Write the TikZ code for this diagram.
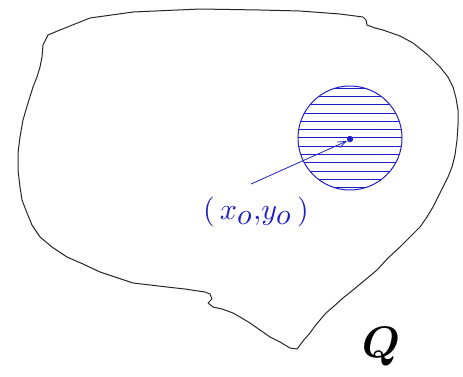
\documentclass[tikz,border=0pt]{standalone}
\usepackage{amsmath,bm,graphicx}
\usetikzlibrary{arrows.meta}
\definecolor{dblue}{RGB}{30,30,200}
\tikzset{
  outline/.style={draw=black!85, line width=1pt, line join=round},
  hatch/.style={draw=dblue, line width=0.7pt},
  ptr/.style={draw=dblue, line width=0.8pt, -{Straight Barb[length=8pt,width=6pt]}}
}
\begin{document}
\begin{tikzpicture}[x=1pt,y=-1pt]
\useasboundingbox (0,0) rectangle (463,376);
% region Q
\draw[outline] (43,45) -- (48,35) -- (60,30) -- (75,24) -- (90,18) -- (133,12) -- (200,9) -- (260,10) -- (300,11) -- (340,14) -- (363,17) -- (366,20) -- (367,25) -- (375,28) -- (383,30) -- (400,36) -- (413,43) -- (428,55) -- (440,67) -- (448,77) -- (453,87) -- (456,98) -- (458,110) -- (458,125) -- (457,140) -- (455,155) -- (452,167) -- (448,177) -- (443,187) -- (438,197) -- (433,207) -- (427,217) -- (420,227) -- (410,237) -- (400,247) -- (388,258) -- (377,270) -- (365,280) -- (353,290) -- (343,298) -- (333,307) -- (326,313) -- (320,320) -- (315,326) -- (310,333) -- (303,341) -- (297,349) -- (290,348) -- (280,342) -- (270,337) -- (260,330) -- (250,323) -- (240,317) -- (233,313) -- (222,309) -- (213,307) -- (208,303) -- (212,299) -- (210,294) -- (205,292) -- (185,289) -- (167,287) -- (150,285) -- (133,283) -- (115,277) -- (100,272) -- (83,264) -- (67,257) -- (52,247) -- (40,237) -- (32,225) -- (27,213) -- (22,200) -- (20,187) -- (18,170) -- (18,153) -- (20,137) -- (23,120) -- (28,103) -- (33,87) -- (37,77) -- (40,67) -- (42,57) -- cycle;
% disc
\node[circle, draw=dblue, line width=1pt, minimum size=104pt, inner sep=0pt] (disc) at (350,138) {};
\begin{scope}
  \clip (350,138) circle (52pt);
  \foreach \y in {-50,-41.7,...,52} {
    \draw[hatch] (290,138+\y) -- (410,138+\y);
  }
\end{scope}
\fill[dblue] (350,139) circle (3.2pt);
\coordinate (ctr) at (347,141);
% label
\node[text=dblue, inner sep=0pt] (lab) at (256,212) {\scalebox{3}{$(\,x_{\textstyle o}{,}y_{\textstyle o}\,)$}};
\coordinate (start) at (251,184);
\draw[ptr] (start) -- (ctr);
% Q
\node[inner sep=0pt] (q) at (381,347) {\scalebox{4.4}{$\bm{Q}$}};
\end{tikzpicture}
\end{document}
